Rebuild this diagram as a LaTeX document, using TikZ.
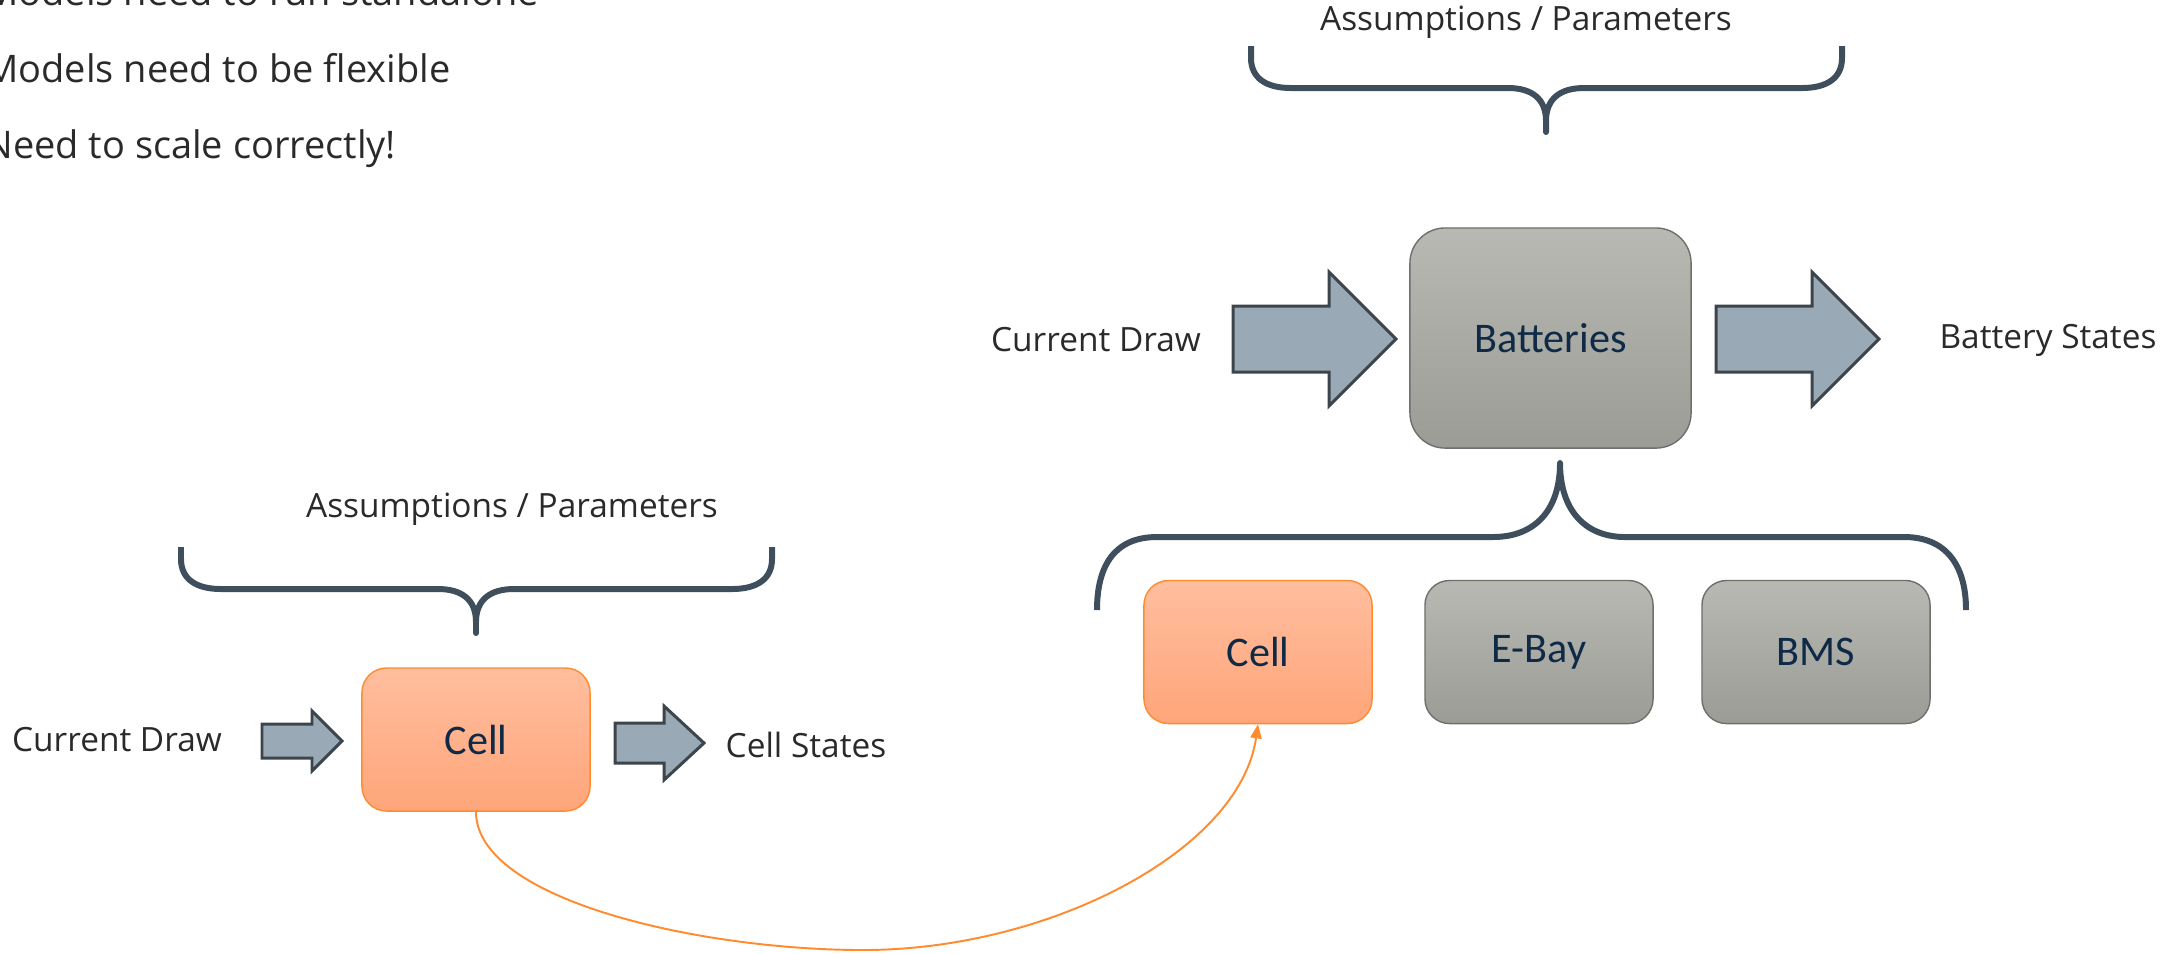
\documentclass[tikz,border=0pt]{standalone}
\usepackage{fontspec}
\setmainfont{Open Sans}
\newfontfamily\boxfont{Carlito}
\usetikzlibrary{arrows.meta}
\definecolor{bracecol}{HTML}{3E4E5C}
\definecolor{txtgray}{HTML}{2A2A2A}
\definecolor{navy}{HTML}{0F2A47}
\definecolor{arrowfill}{HTML}{99A9B6}
\definecolor{arrowline}{HTML}{3D454C}
\definecolor{celltop}{HTML}{FFBE9E}
\definecolor{cellbot}{HTML}{FFA57A}
\definecolor{cellline}{HTML}{FF8B2E}
\definecolor{graytop}{HTML}{B9B9B3}
\definecolor{graybot}{HTML}{9C9C97}
\definecolor{grayline}{HTML}{6F6F6B}
% block arrow: x start, x head, x tip, y centre, shaft half, head half
\newcommand{\fatarrow}[6]{\draw[fatarrow] (#1,#4-#5) -- (#2,#4-#5) -- (#2,#4-#6) -- (#3,#4) -- (#2,#4+#6) -- (#2,#4+#5) -- (#1,#4+#5) -- cycle;}
% curly brace opening upwards, from its top left end
\newcommand{\topbrace}{(0,0) -- (0,12) .. controls (0,32) and (15,42) .. (40,42) -- (257,42) .. controls (280,42) and (295,52) .. (295,75) -- (295,86) -- (295,75) .. controls (295,52) and (310,42) .. (333,42) -- (551,42) .. controls (576,42) and (591,32) .. (591,12) -- (591,0)}

\begin{document}
\begin{tikzpicture}[x=0.01cm,y=-0.01cm,
  lbl/.style={text=txtgray,font=\fontsize{9.5}{11}\selectfont},
  bullet/.style={text=txtgray,font=\fontsize{10.8}{13}\selectfont,anchor=base west},
  bracepath/.style={draw=bracecol,line width=1.7pt,line join=round},
  fatarrow/.style={fill=arrowfill,draw=arrowline,line width=0.85pt},
  cellbox/.style={rounded corners=7pt,top color=celltop,bottom color=cellbot,draw=cellline,line width=0.4pt,
    minimum width=2.28cm,minimum height=1.43cm,inner sep=0pt,text=navy,font=\boxfont\fontsize{12}{14}\selectfont},
  graybox/.style={cellbox,top color=graytop,bottom color=graybot,draw=grayline},
  link/.style={draw=cellline,line width=0.55pt,-{Triangle[width=3.2pt,length=4pt]}}]
\useasboundingbox (0,0) rectangle (2182,953);

% bullet lines, clipped at the left edge
\node[bullet] (b1) at (-28,5) {Models need to run standalone};
\node[bullet] (b2) at (-28,82) {Models need to be flexible};
\node[bullet] (b3) at (-28,158) {Need to scale correctly!};

% single cell model
\node[lbl] (apL) at (512,509) {Assumptions / Parameters};
\draw[bracepath,shift={(181,547)}] \topbrace;
\node[lbl] (cdL) at (117,740) {Current Draw};
\fatarrow{262}{312}{342}{741}{17}{30}
\node[cellbox] (cellL) at (476,739.5) {Cell};
\fatarrow{615}{664}{704}{743}{20}{37}
\node[lbl] (csL) at (806,745) {Cell States};

% battery model
\node[lbl] (apR) at (1526,22) {Assumptions / Parameters};
\draw[bracepath,shift={(1251,46)}] \topbrace;
\node[lbl] (cdR) at (1096,340) {Current Draw};
\fatarrow{1233}{1329}{1396}{339}{33}{67}
\node[graybox,rounded corners=10pt,minimum width=2.81cm,minimum height=2.2cm] (bat) at (1550.5,338) {Batteries};
\fatarrow{1716}{1812}{1879}{339}{33}{67}
\node[lbl] (bs) at (2048,340) {Battery States};

\draw[bracepath] (1097,610) .. controls (1097,565) and (1115,537) .. (1157,537) -- (1493,537)
  .. controls (1535,537) and (1560,510) .. (1560,463) .. controls (1560,510) and (1585,537) .. (1625,537)
  -- (1904,537) .. controls (1946,537) and (1966,565) .. (1966,610);
\node[cellbox] (cellR) at (1258,652) {Cell};
\node[graybox] (ebay) at (1539,652) {E-Bay};
\node[graybox] (bms) at (1816,652) {BMS};

\coordinate (low) at (863,950);
\draw[link] (cellL.south) .. controls (476,900) and (700,950) .. (low)
  .. controls (1050,950) and (1240,850) .. (cellR.south);
\end{tikzpicture}
\end{document}
